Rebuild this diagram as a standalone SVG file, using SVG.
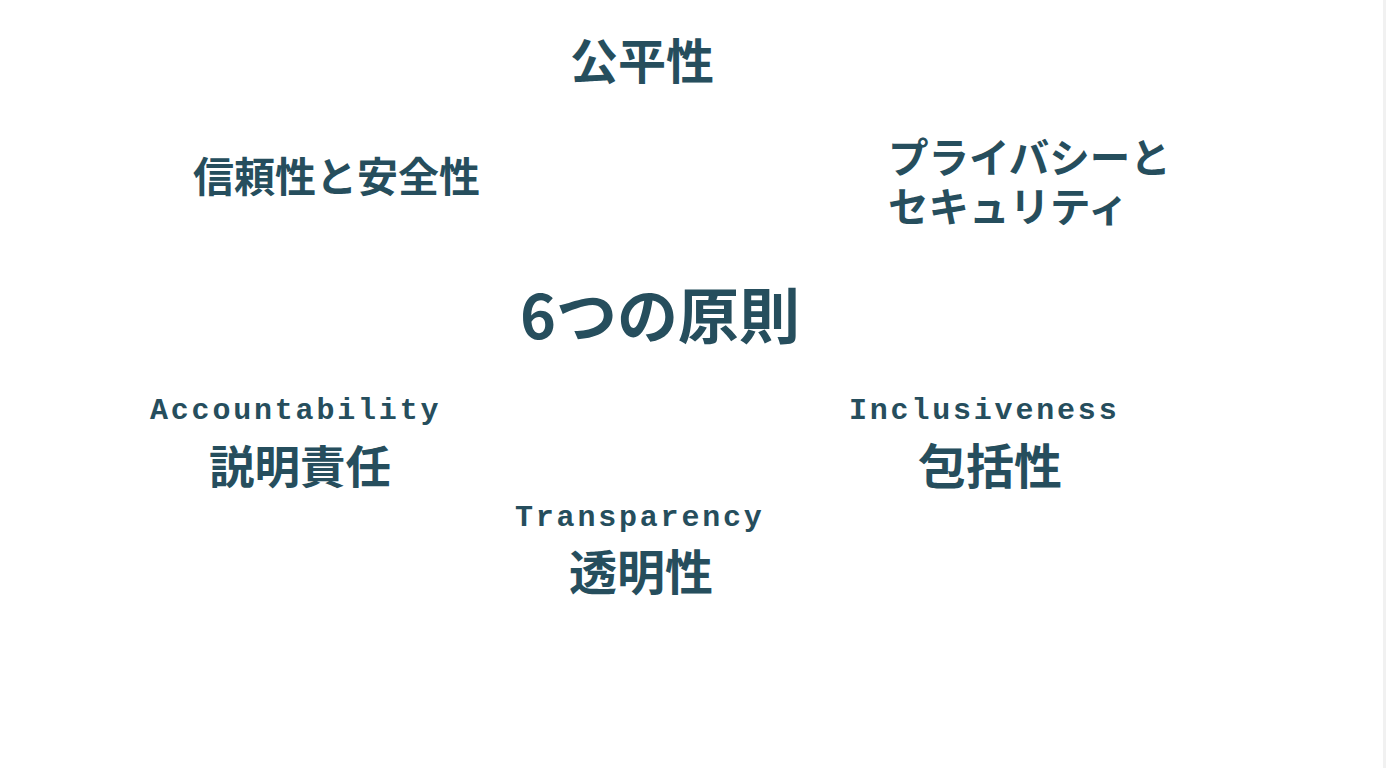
<svg xmlns="http://www.w3.org/2000/svg" width="1386" height="768" viewBox="0 0 1386 768">
<style>
.jp{font-family:"Noto Sans CJK JP","Noto Sans",sans-serif;font-weight:bold;fill:#264e5d}
.en{font-family:"Liberation Mono","Courier New",monospace;font-weight:bold;fill:#264e5d;font-size:30px;letter-spacing:2.8px}
</style>
<rect width="1386" height="768" fill="#ffffff"/>
<rect x="1383" y="0" width="3" height="768" fill="#f1f1f1"/>
<g id="center"><text class="jp" x="660" y="339" font-size="61" text-anchor="middle">6つの原則</text></g>
<g id="fairness"><text class="jp" x="642" y="79" font-size="48" text-anchor="middle">公平性</text></g>
<g id="reliability"><text class="jp" x="193" y="192" font-size="41">信頼性と安全性</text></g>
<g id="privacy"><text class="jp" font-size="40.5"><tspan x="888" y="173">プライバシーと</tspan><tspan x="888" y="222">セキュリティ</tspan></text></g>
<g id="accountability"><text class="en" x="150" y="419">Accountability</text><text class="jp" x="300" y="484" font-size="45.5" text-anchor="middle">説明責任</text></g>
<g id="inclusiveness"><text class="en" x="849" y="419">Inclusiveness</text><text class="jp" x="990" y="484" font-size="48" text-anchor="middle">包括性</text></g>
<g id="transparency"><text class="en" x="515" y="526">Transparency</text><text class="jp" x="641" y="590" font-size="48" text-anchor="middle">透明性</text></g>
<g id="connectors"></g>
</svg>
